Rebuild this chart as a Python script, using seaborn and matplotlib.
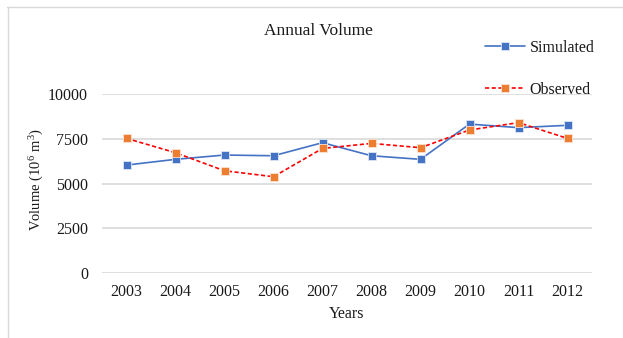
import matplotlib
matplotlib.use("Agg")
import matplotlib.pyplot as plt
from matplotlib.lines import Line2D
import seaborn as sns
import pandas as pd

# Annual volumes (10^6 m^3)
years = [2003, 2004, 2005, 2006, 2007, 2008, 2009, 2010, 2011, 2012]
simulated = [6030, 6350, 6590, 6550, 7280, 6550, 6350, 8320, 8120, 8250]
observed = [7520, 6720, 5710, 5380, 6960, 7240, 7000, 7990, 8400, 7520]
y_ticks = [0, 2500, 5000, 7500, 10000]

sns.set_theme(style="white")
plt.rcParams["font.family"] = ["Liberation Serif", "DejaVu Serif"]
plt.rcParams["mathtext.fontset"] = "custom"
plt.rcParams["mathtext.rm"] = "Liberation Serif"
plt.rcParams["mathtext.it"] = "Liberation Serif:italic"

TXT = "#1a1a1a"
FS = 11.5

W, H = 623, 338
fig = plt.figure(figsize=(W / 100, H / 100), dpi=100)
ax = fig.add_axes([102 / W, 1 - 273 / H, (592 - 102) / W, (273 - 94) / H])

df = pd.DataFrame({"Year": years, "Simulated": simulated, "Observed": observed})

sns.lineplot(data=df, x="Year", y="Simulated", ax=ax, color="#4472C4",
             linewidth=1.2, marker="s", markersize=6, markerfacecolor="#4472C4",
             markeredgecolor="#dde6f5", markeredgewidth=0.6, clip_on=False,
             label="Simulated")
sns.lineplot(data=df, x="Year", y="Observed", ax=ax, color="#FF0000",
             linewidth=1.2, linestyle=(0, (2.5, 1.5)), marker="s", markersize=6,
             markerfacecolor="#ED7D31", markeredgecolor="#fbe3d3",
             markeredgewidth=0.6, clip_on=False, label="Observed")

ax.set_xlim(2002.5, 2012.5)
ax.set_ylim(0, 10000)
ax.set_xticks(years)
ax.set_xticklabels([str(y) for y in years])
ax.set_yticks(y_ticks)
ax.set_yticklabels([str(v) for v in y_ticks])
ax.tick_params(axis="both", length=0, labelsize=FS, colors=TXT)
ax.tick_params(axis="y", pad=10)
ax.tick_params(axis="x", pad=8)
ax.grid(axis="y", color="#d9d9d9", linewidth=1.2)
ax.grid(axis="x", visible=False)
for s in ax.spines.values():
    s.set_visible(False)

ax.set_xlabel("Years", fontsize=FS, color=TXT, labelpad=4)
ax.set_ylabel("")
fig.text(37 / W, 1 - 180 / H, r"Volume (10$^{\mathrm{6}}$ m$^{\mathrm{3}}$)",
         rotation=90, ha="center", va="center", fontsize=10.5, color=TXT)

fig.text(318 / W, 1 - 31 / H, "Annual Volume", ha="center", va="center",
         fontsize=12.5, color=TXT)

handles, labels = ax.get_legend_handles_labels()
ax.get_legend().remove()
fig.legend(handles, labels, loc="upper left",
           bbox_to_anchor=(485 / W, 1 - 40 / H), frameon=False,
           fontsize=FS, handlelength=2.5, handletextpad=0.3,
           labelspacing=1.62, borderpad=0, borderaxespad=0,
           labelcolor=TXT)

# chart frame (top and left edges)
fig.add_artist(Line2D([7 / W, 1.0], [1 - 7 / H, 1 - 7 / H],
                      transform=fig.transFigure, color="#d9d9d9", linewidth=1))
fig.add_artist(Line2D([8 / W, 8 / W], [0.0, 1 - 7 / H],
                      transform=fig.transFigure, color="#d9d9d9", linewidth=1))

fig.savefig("out.png", dpi=100)
